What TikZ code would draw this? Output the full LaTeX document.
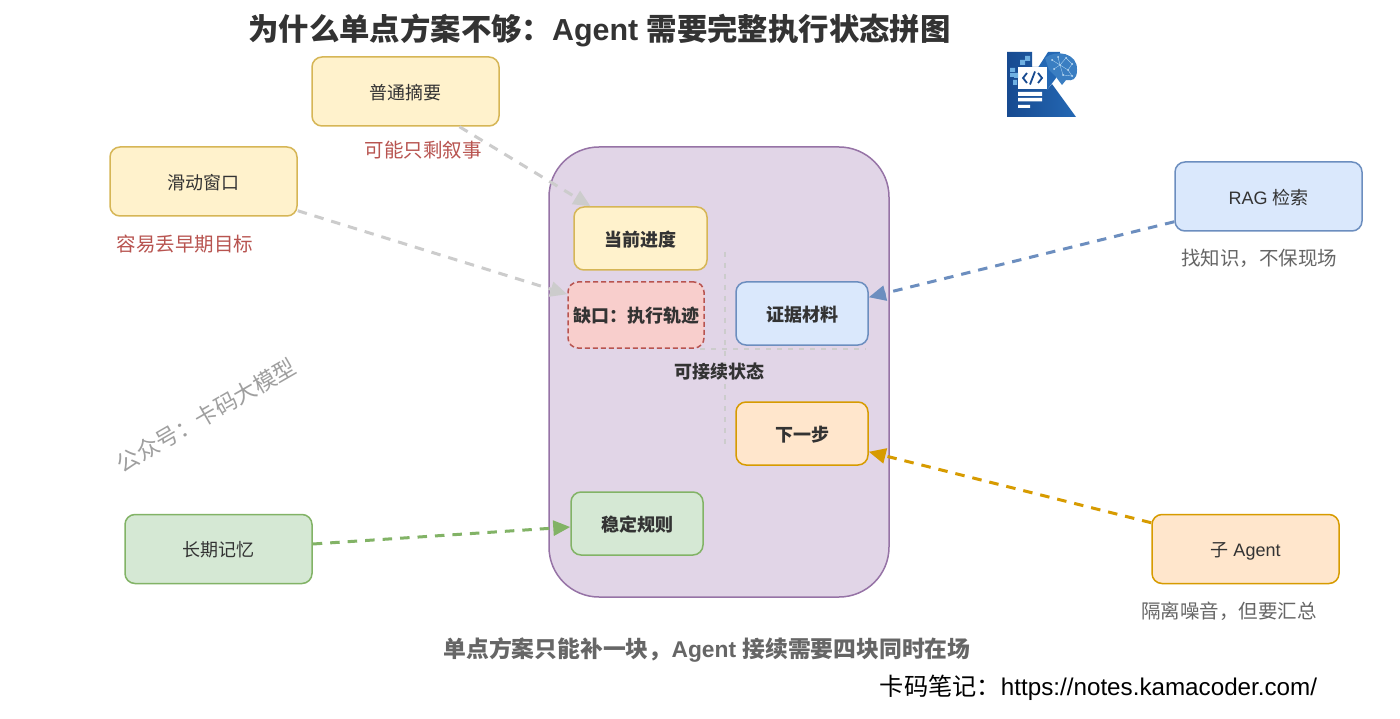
\documentclass[tikz,border=0pt]{standalone}
\usepackage{fontspec}
\setmainfont{Liberation Sans}
\newfontfamily\cjk{Noto Sans CJK SC}
\usetikzlibrary{arrows.meta,calc,shapes.geometric}
\definecolor{yelF}{HTML}{FFF2CC}\definecolor{yelD}{HTML}{D6B656}
\definecolor{redF}{HTML}{F8CECC}\definecolor{redD}{HTML}{B85450}
\definecolor{bluF}{HTML}{DAE8FC}\definecolor{bluD}{HTML}{6C8EBF}
\definecolor{oraF}{HTML}{FFE6CC}\definecolor{oraD}{HTML}{D79B00}
\definecolor{greF}{HTML}{D5E8D4}\definecolor{greD}{HTML}{82B366}
\definecolor{purF}{HTML}{E1D5E7}\definecolor{purD}{HTML}{9673A6}
\definecolor{txt}{HTML}{333333}\definecolor{gryT}{HTML}{666666}
\definecolor{arr}{HTML}{CCCCCC}
\definecolor{logoA}{HTML}{2468B4}\definecolor{logoB}{HTML}{174A90}\definecolor{logoC}{HTML}{6FB0E2}
\tikzset{
  box/.style={rounded corners=10pt,line width=1.5pt,align=center,text=txt,inner sep=0pt,text height=15.5pt,text depth=0pt,font=\cjk\fontsize{18}{20}\selectfont},
  outer/.style={box,minimum width=187pt,minimum height=69pt},
  inner/.style={box,minimum width=132pt,minimum height=63pt,font=\cjk\bfseries\fontsize{18}{20}\selectfont},
  yel/.style={fill=yelF,draw=yelD},
  blu/.style={fill=bluF,draw=bluD},
  ora/.style={fill=oraF,draw=oraD},
  gre/.style={fill=greF,draw=greD},
  link/.style={dash pattern=on 9.5pt off 8pt,line width=3pt,-{Triangle[length=17pt,width=15pt]}},
  note/.style={font=\cjk\fontsize{19.5}{22}\selectfont},
  cross/.style={draw=arr,line width=1.2pt,dash pattern=on 5pt off 6pt},
}
\begin{document}
\begin{tikzpicture}[x=1pt,y=-1pt]
\useasboundingbox[fill=white] (0,0) rectangle (1400,719);
% container
\node[draw=purD,fill=purF,line width=1.5pt,rounded corners=50pt,minimum width=340pt,minimum height=450pt,inner sep=0pt] (state) at (719,372) {};
% cross
\coordinate (ct) at (725,252); \coordinate (cb) at (725,446);
\coordinate (cl) at (700,349); \coordinate (cr) at (866,349);
\draw[cross] (ct) -- (cb);
\draw[cross] (cl) -- (cr);
\node[font=\cjk\bfseries\fontsize{18}{20}\selectfont,text=txt,inner sep=1pt] (center) at (719,372) {可接续状态};
% inner nodes
\node[inner,yel,minimum width=133pt] (prog) at (640.5,238.5) {当前进度};
\node[inner,fill=redF,draw=redD,dash pattern=on 5pt off 3pt,minimum width=136pt,minimum height=66pt] (gap) at (636,315) {缺口：执行轨迹};
\node[inner,blu] (evid) at (802,313.5) {证据材料};
\node[inner,ora] (next) at (802,433.5) {下一步};
\node[inner,gre] (rule) at (637,523.5) {稳定规则};
% outer nodes
\node[outer,yel] (summ) at (405.5,91.5) {普通摘要};
\node[outer,yel] (wind) at (203.5,181.5) {滑动窗口};
\node[outer,blu] (rag) at (1268.5,196.5) {{\rmfamily RAG }检索};
\node[outer,ora] (sub) at (1245.5,549) {子{\rmfamily\ Agent}};
\node[outer,gre] (mem) at (218.5,549) {长期记忆};
% connectors
\draw[link,draw=arr] ([xshift=54pt]summ.south) -- ([xshift=-50pt]prog.north);
\draw[link,draw=arr] ([yshift=6pt]wind.south east) -- ([yshift=-13pt]gap.north west);
\draw[link,draw=bluD] ([yshift=10pt]rag.south west) -- ([yshift=-16pt]evid.north east);
\draw[link,draw=oraD] ([yshift=-9pt]sub.north west) -- ([yshift=14pt]next.south east);
\draw[link,draw=greD] ([yshift=5pt]mem.east) -- ([yshift=-3.5pt]rule.west);
% notes
\node[note,text=redD] (n1) at (423,150) {可能只剩叙事};
\node[note,text=redD] (n2) at (185,244) {容易丢早期目标};
\node[note,text=gryT] (n3) at (1259,258) {找知识，不保现场};
\node[note,text=gryT] (n4) at (1229,611) {隔离噪音，但要汇总};
% title and footers
\node[font=\bfseries\fontsize{30.4}{34}\selectfont,text=txt] (title) at (599.5,30) {{\cjk\bfseries 为什么单点方案不够：}Agent {\cjk\bfseries 需要完整执行状态拼图}};
\node[font=\bfseries\fontsize{22.8}{25}\selectfont,text=gryT] (foot) at (707,650) {{\cjk\bfseries 单点方案只能补一块，}Agent {\cjk\bfseries 接续需要四块同时在场}};
\node[font=\fontsize{24.2}{27}\selectfont,text=black] (link) at (1098.5,688) {{\cjk 卡码笔记：}https://notes.kamacoder.com/};
\node[font=\cjk\fontsize{22.5}{27}\selectfont,text=gray!75,rotate=30] (wm) at (206,415) {公众号：卡码大模型};
% logo
\shade[left color=logoB,right color=logoA] (1007,52) -- (1032,52) -- (1032,67) -- (1047,67) -- (1047,90) -- (1052,84) -- (1076,117) -- (1007,117) -- cycle;
\fill[logoA] (1032,77) -- (1048,52) -- (1060,52) -- (1056,78) -- (1047,90) -- cycle;
\fill[logoA!70!logoC] (1045,58) .. controls (1056,49) and (1078,53) .. (1077,70) .. controls (1077,80) and (1072,81) .. (1066,80) -- (1062,85) -- (1056,77) -- (1049,70) -- cycle;
\foreach \a/\b in {1052/60,1058/57,1066/58,1072/64,1060/65,1068/70,1054/69,1072/76,1063/75}{\fill[white!65!logoC] (\a,\b) circle (1pt);}
\draw[white!40!logoC,line width=.4pt] (1052,60)--(1060,65)--(1066,58)--(1072,64)--(1068,70)--(1060,65)--(1054,69) (1068,70)--(1072,76)--(1063,75)--(1060,65) (1058,57)--(1060,65);
\fill[white] (1018,67) rectangle (1047,89);
\fill[white] (1018,92) rectangle (1042,96) (1018,98) rectangle (1042,101.5) (1018,105) rectangle (1030,108);
\draw[logoB,line width=1.8pt] (1027,73)--(1023,78)--(1027,83) (1038,73)--(1042,78)--(1038,83) (1035,71.5)--(1030,84.5);
\fill[logoC] (1020,60) rectangle (1025,65) (1025,56) rectangle (1030,61) (1010,68) rectangle (1015,72) (1014,73) rectangle (1018,78) (1010,73) rectangle (1014,77) (1013,80) rectangle (1017,85);
\end{tikzpicture}
\end{document}
